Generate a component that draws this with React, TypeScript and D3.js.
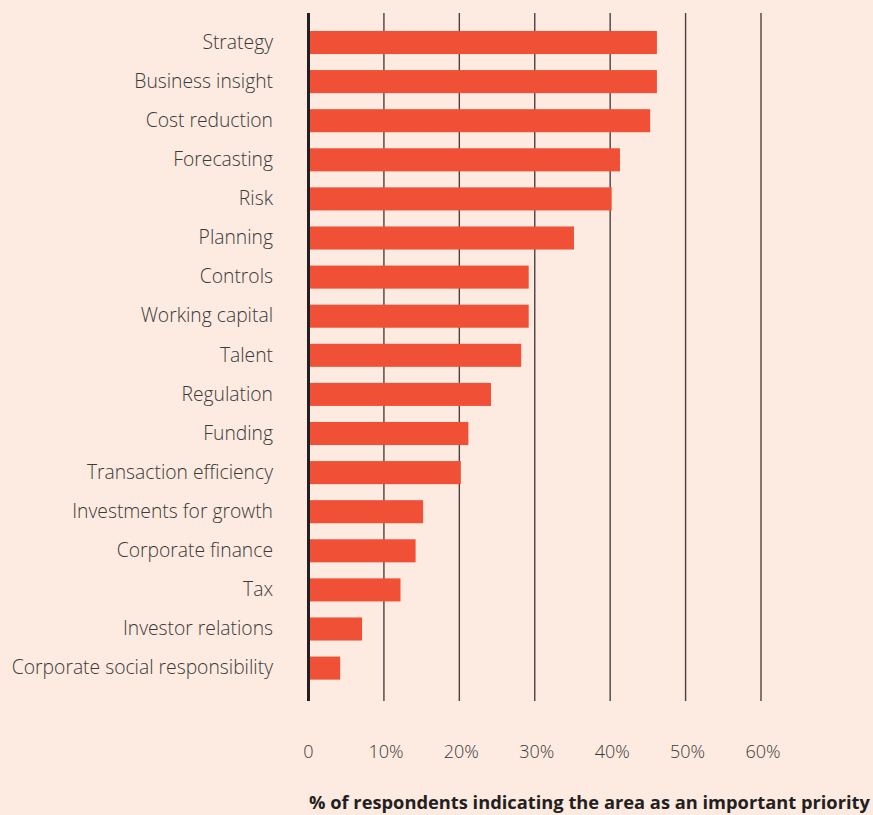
import React from "react";
import * as d3 from "d3";

const categories = [
  "Strategy",
  "Business insight",
  "Cost reduction",
  "Forecasting",
  "Risk",
  "Planning",
  "Controls",
  "Working capital",
  "Talent",
  "Regulation",
  "Funding",
  "Transaction efficiency",
  "Investments for growth",
  "Corporate finance",
  "Tax",
  "Investor relations",
  "Corporate social responsibility",
];
const values = [46.2, 46.2, 45.3, 41.3, 40.2, 35.2, 29.2, 29.2, 28.2, 24.2, 21.2, 20.2, 15.2, 14.2, 12.2, 7.1, 4.2];
const ticks = [0, 10, 20, 30, 40, 50, 60];
const tickLabels = ["0", "10%", "20%", "30%", "40%", "50%", "60%"];
const axisTitle = "% of respondents indicating the area as an important priority";

const W = 873;
const H = 815;
const BG = "#fdeae0";
const BAR = "#f05136";
const FONT = "'Open Sans', 'Noto Sans', sans-serif";

export default function App() {
  const x = d3.scaleLinear().domain([0, 60]).range([308.5, 761]);
  const y = d3
    .scaleBand<string>()
    .domain(categories)
    .range([22.95, 687.65])
    .paddingInner(0.41)
    .paddingOuter(0.205);
  const gridTop = 13;
  const gridBottom = 701;

  return (
    <svg
      width={W}
      height={H}
      style={{ position: "absolute", left: 0, top: 0, background: BG }}
    >
      <rect x={0} y={0} width={W} height={H} fill={BG} />
      {ticks.slice(1).map((t) => (
        <line
          key={t}
          x1={x(t)}
          x2={x(t)}
          y1={gridTop}
          y2={gridBottom}
          stroke="#4a4241"
          strokeWidth={1.4}
        />
      ))}
      {categories.map((c, i) => (
        <rect
          key={c}
          x={x(0)}
          y={y(c)}
          width={x(values[i]) - x(0)}
          height={y.bandwidth()}
          fill={BAR}
        />
      ))}
      <line
        x1={x(0)}
        x2={x(0)}
        y1={gridTop}
        y2={gridBottom}
        stroke="#231f20"
        strokeWidth={3}
      />
      {categories.map((c) => (
        <text
          key={c}
          x={273}
          y={(y(c) as number) + y.bandwidth() / 2 - 0.5}
          dy="0.35em"
          textAnchor="end"
          fontFamily={FONT}
          fontWeight={300}
          fontSize={19.3}
          fill="#3a3a3a"
        >
          {c}
        </text>
      ))}
      {ticks.map((t, i) => (
        <text
          key={t}
          x={x(t) + (i === 0 ? 0 : 2)}
          y={758}
          textAnchor="middle"
          fontFamily={FONT}
          fontWeight={300}
          fontSize={18}
          fill="#3a3a3a"
        >
          {tickLabels[i]}
        </text>
      ))}
      <text
        x={309}
        y={809}
        textAnchor="start"
        fontFamily={FONT}
        fontWeight={700}
        fontSize={18.3}
        fill="#231f20"
      >
        {axisTitle}
      </text>
    </svg>
  );
}
